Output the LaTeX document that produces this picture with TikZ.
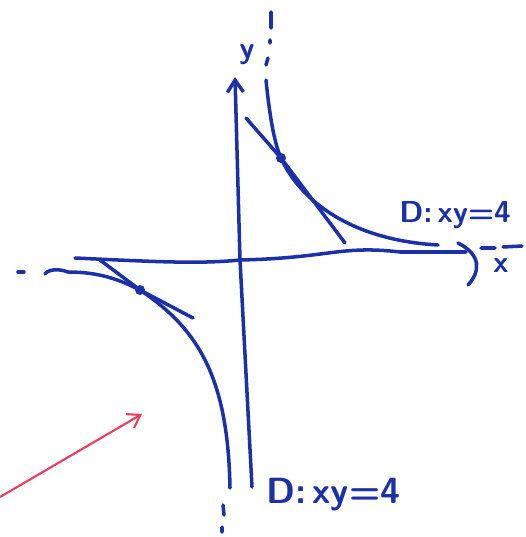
\documentclass[tikz,border=0pt]{standalone}
\usepackage{xcolor}
\usepackage{tikz}
\usetikzlibrary{arrows.meta,positioning}
\definecolor{ink}{RGB}{28,48,168}
\definecolor{redink}{RGB}{240,60,90}

\begin{document}
\begin{tikzpicture}[x=0.02cm, y=-0.02cm,
  pen/.style={draw=ink, line width=2pt, line cap=round, line join=round},
  lbl/.style={text=ink, font=\sffamily\bfseries\LARGE, inner sep=1pt},
  arr/.style={-{Straight Barb[length=2.4mm, width=3.2mm]}}
]
\useasboundingbox (0,0) rectangle (525,537);
% axes
\coordinate (o) at (240,260);
\draw[pen, arr] (252,487) -- (o) -- (235,77);
\draw[pen] (75,258) .. controls (160,262) and (200,264) .. (o)
  .. controls (330,258) and (340,245) .. (400,252) -- (466,252);
\draw[pen] (458,243) .. controls (482,255) and (480,272) .. (468,285);
\node[lbl] (ylab) at (247,55) {y};
\node[lbl] (xlab) at (501,266) {x};
% branch in the first quadrant
\coordinate (p1) at (281,158);
\draw[pen] (266,80) .. controls (270,120) and (275,145) .. (p1)
  .. controls (300,200) and (350,240) .. (438,245);
\draw[pen] (246,118) -- (p1) -- (345,243);
\fill[ink] (p1) circle (5);
% branch in the third quadrant
\coordinate (p3) at (140,290);
\draw[pen] (45,274) .. controls (47,270) and (58,268) .. (68,272)
  .. controls (100,272) and (120,280) .. (p3)
  .. controls (200,330) and (228,380) .. (230,488);
\draw[pen] (100,260) -- (p3) -- (193,318);
\fill[ink] (p3) circle (5);
% dashed continuations
\draw[pen] (271,12) -- (271,28) (270,40) -- (270,43) (268,58) -- (266,65);
\draw[pen] (18,272) -- (24,272);
\draw[pen] (481,248) -- (495,248) (503,247) -- (522,246);
\draw[pen] (223,505) -- (224,515) (222,527) -- (222,532);
% labels
\node[lbl] (dtop) at (455,215) {D:\,xy=4};
\node[lbl, scale=1.2, anchor=west] (dbot) at (264,495) {D:\,xy=4};
% red arrow
\coordinate (r0) at (0,497);
\coordinate (r1) at (142,414);
\draw[draw=redink, line width=1.2pt, arr] (r0) -- (r1);
\end{tikzpicture}
\end{document}
